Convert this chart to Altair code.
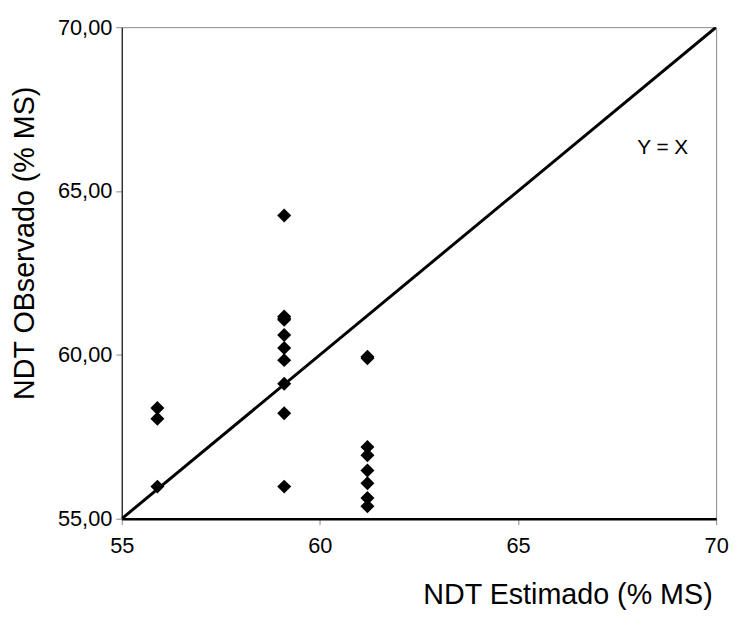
import altair as alt
import pandas as pd

# Estimated (x) and observed (y) NDT values, % MS
ndt_estimado = [55.9, 55.9, 55.9,
                59.1, 59.1, 59.1, 59.1, 59.1, 59.1, 59.1, 59.1, 59.1, 59.1,
                61.2, 61.2, 61.2, 61.2, 61.2, 61.2, 61.2, 61.2]
ndt_observado = [58.38, 58.05, 55.98,
                 64.25, 61.17, 61.07, 60.61, 60.21, 59.84, 59.12, 58.22, 55.98, 61.12,
                 59.94, 59.90, 57.19, 56.94, 56.47, 56.08, 55.63, 55.38]

line_x = [55, 70]
line_y = [55, 70]
label_text = ["Y = X"]
label_x = [68.65]
label_y = [66.3]
ticks = [55, 60, 65, 70]

pts = pd.DataFrame({"x": ndt_estimado, "y": ndt_observado})
diag = pd.DataFrame({"x": line_x, "y": line_y})
lab = pd.DataFrame({"x": label_x, "y": label_y, "t": label_text})

xs = alt.Scale(domain=[55, 70], nice=False, zero=False)
ys = alt.Scale(domain=[55, 70], nice=False, zero=False)

xaxis = alt.Axis(values=ticks, title="NDT Estimado (% MS)", grid=False,
                 domainColor="black", domainWidth=2.5, tickColor="#888888",
                 tickSize=6, labelFontSize=22, labelPadding=11, labelColor="black",
                 labelFlush=False,
                 titleFontSize=29, titleFontWeight="normal", titleColor="black",
                 titleX=597, titleY=86, titleAlign="right", titleBaseline="alphabetic")
yaxis = alt.Axis(values=ticks, title="NDT OBservado (% MS)", grid=False,
                 domainColor="black", domainWidth=1, tickColor="#888888",
                 tickSize=6, labelFontSize=22, labelPadding=4, labelColor="black",
                 labelExpr="replace(format(datum.value, '.2f'), '.', ',')",
                 titleFontSize=29, titleFontWeight="normal", titleColor="black",
                 titlePadding=18, titleY=218)

base_x = alt.X("x:Q", scale=xs, axis=xaxis)
base_y = alt.Y("y:Q", scale=ys, axis=yaxis)

line = alt.Chart(diag).mark_line(color="black", strokeWidth=3, clip=True).encode(x=base_x, y=base_y)
points = alt.Chart(pts).mark_point(shape="diamond", filled=True, color="black",
                                   size=200, opacity=1).encode(x=base_x, y=base_y)
text = alt.Chart(lab).mark_text(fontSize=21, color="black", font="Liberation Sans").encode(
    x=alt.X("x:Q", scale=xs), y=alt.Y("y:Q", scale=ys), text="t:N")

chart = alt.layer(line, points, text).properties(
    width=601, height=497,
    autosize=alt.AutoSizeParams(type="none"),
    padding={"left": 115, "top": 16, "right": 13, "bottom": 100},
).configure(font="Liberation Sans").configure_view(
    stroke="#888888", strokeWidth=1
)

chart.save("out.html", embed_options={"renderer": "svg", "actions": False})
